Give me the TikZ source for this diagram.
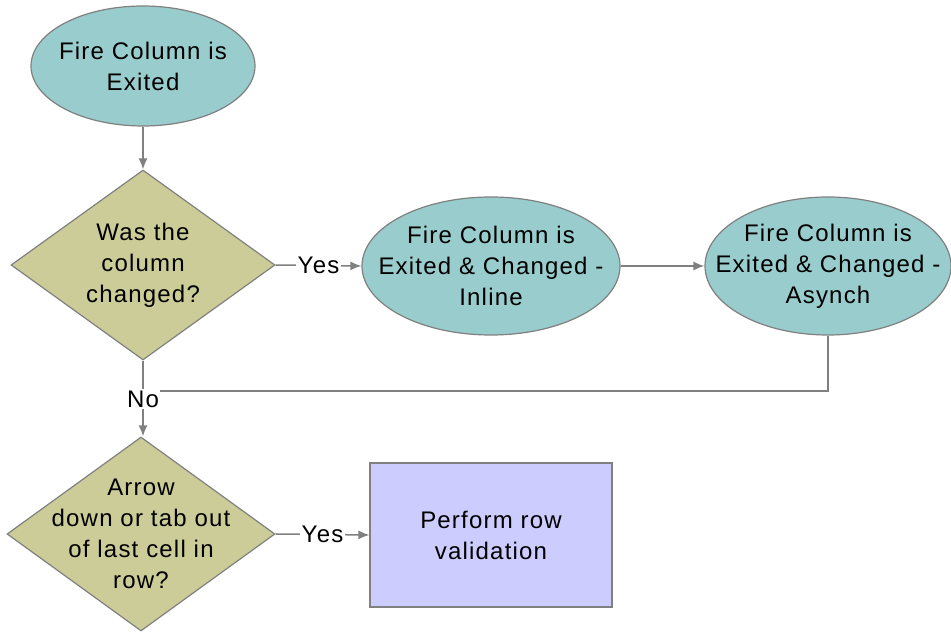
\documentclass[tikz,border=0pt]{standalone}
\usepackage{fontspec}
\setmainfont{Liberation Sans}[LetterSpace=5]
\usetikzlibrary{shapes.geometric,arrows.meta}
\definecolor{teal1}{HTML}{99CCCC}
\definecolor{olive1}{HTML}{CCCC99}
\definecolor{lav1}{HTML}{CCCCFF}
\definecolor{edge1}{HTML}{808080}
\begin{document}
\begin{tikzpicture}[x=1pt,y=1pt,
  every node/.style={font=\fontsize{24}{31}\selectfont, align=center, text=black},
  every label/.style={font=\fontsize{24}{31}\selectfont, align=center, text=black, inner sep=0pt},
  oval/.style={ellipse, draw=edge1, line width=1.2pt, fill=teal1, inner sep=0pt},
  decision/.style={diamond, draw=edge1, line width=1.2pt, fill=olive1, inner sep=0pt},
  procbox/.style={rectangle, draw=edge1, line width=1.2pt, fill=lav1, inner sep=0pt},
  conn/.style={draw=edge1, line width=1.5pt},
  arr/.style={conn, -{Latex[length=11pt,width=9pt]}},
  lbl/.style={fill=white, inner sep=2pt}
]
\useasboundingbox[fill=white] (0,0) rectangle (951,634);
\node[oval, minimum width=224, minimum height=120, label={center:Fire Column is\\Exited}] (e1) at (143,568) {};
\node[decision, minimum width=264, minimum height=190, label={center:Was the\\column\\changed?}] (d1) at (143,369) {};
\node[oval, minimum width=258, minimum height=138, label={center:Fire Column is\\Exited \& Changed -\\Inline}] (e2) at (491,368) {};
\node[oval, minimum width=246, minimum height=138, label={center:Fire Column is\\Exited \& Changed -\\Asynch}] (e3) at (828,368) {};
\node[inner sep=1pt] (no) at (143,235) {No};
\node[decision, minimum width=268, minimum height=194, label={center:Arrow\\down or tab out\\of last cell in\\row?}] (d2) at (141,100) {};
\node[procbox, minimum width=242, minimum height=144] (r) at (491,99) {Perform row\\validation};

\draw[arr] (e1.south) -- (d1.north);
\draw[arr] (d1.east) -- node[lbl, pos=0.5] {Yes} (e2.west);
\draw[arr] (e2.east) -- (e3.west);
\draw[conn] (e3.south) |- ([yshift=8pt]no.east);
\draw[conn] (d1.south) -- (no.north);
\draw[arr] (no.south) -- (no.south |- d2.north);
\draw[arr] (d2.east) -- node[lbl, pos=0.5] {Yes} (r.west);
\end{tikzpicture}
\end{document}
